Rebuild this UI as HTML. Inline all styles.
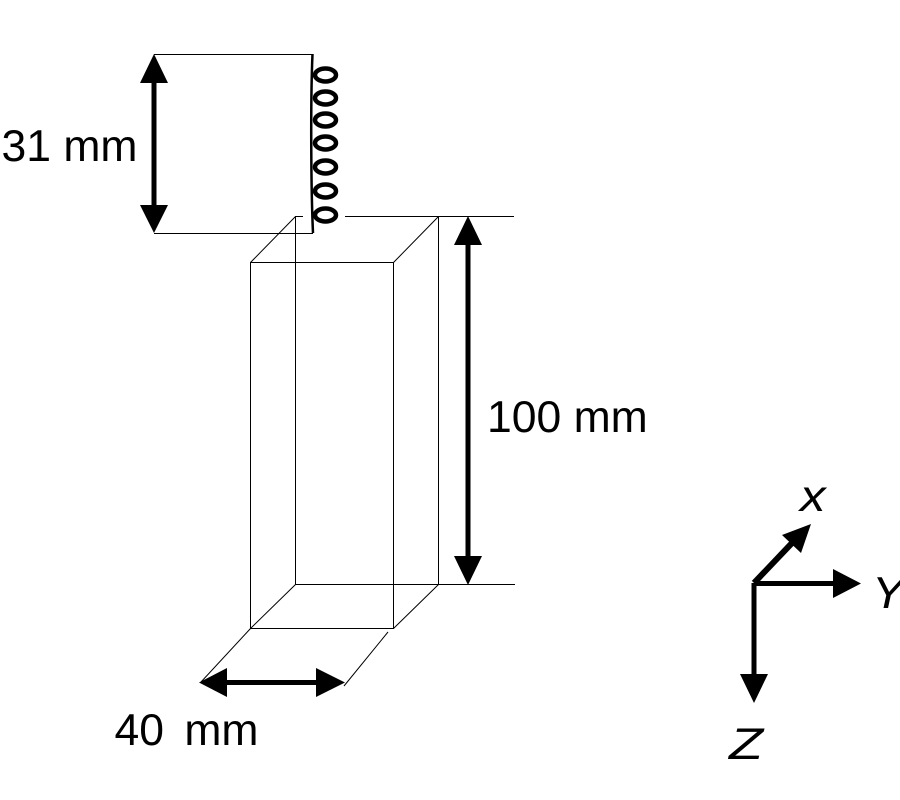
<!DOCTYPE html>
<html>
<head>
<meta charset="utf-8">
<style>
html,body{margin:0;padding:0;background:#fff;width:900px;height:800px;overflow:hidden}
svg{display:block}
text{font-family:"Liberation Sans",sans-serif;font-size:44.5px;fill:#000}
.i{font-style:italic}
</style>
</head>
<body>
<svg width="900" height="800" viewBox="0 0 900 800" xmlns="http://www.w3.org/2000/svg">
<g fill="none" stroke="#000" stroke-width="1">
<path d="M154 54.500H313M154 233.500H313"/>
<path d="M345 216.500H514M438 584.500H515"/>
<path d="M250.500 262.500H393.500V628.500H250.500Z"/>
<path d="M295.500 584.500H438.500V216.500M295.500 584.500V216.500H303"/>
<path d="M250.500 262.500L295.500 216.500M393.500 262.500L438.500 216.500M250.500 628.500L295.500 584.500M393.500 628.500L438.500 584.500"/>
<path d="M250.500 628.500L201 682M388 632L344 686"/>
</g>
<path d="M312.500 54C310.500 100 311 190 313 233" fill="none" stroke="#000" stroke-width="2.500"/>
<g fill="none" stroke="#000" stroke-width="4.500">
<ellipse cx="325.500" cy="75" rx="10.500" ry="6.500"/>
<ellipse cx="325.500" cy="98" rx="10.500" ry="6.500"/>
<ellipse cx="325.500" cy="120" rx="10.500" ry="6.500"/>
<ellipse cx="325.500" cy="143" rx="10.500" ry="6.500"/>
<ellipse cx="325.500" cy="167" rx="10.500" ry="6.500"/>
<ellipse cx="325.500" cy="191" rx="10.500" ry="6.500"/>
<ellipse cx="325.500" cy="215" rx="10.500" ry="6.500"/>
</g>
<g stroke="#000" stroke-width="5" fill="none">
<path d="M154 80V208"/>
<path d="M468 244V558"/>
<path d="M226 682.500H318"/>
<path d="M754 583.500H836M754 583V676"/>
<path d="M754 583L792 543" stroke-width="6"/>
</g>
<g fill="#000">
<path d="M154 54L168 83H140Z"/>
<path d="M154 233L168 205H140Z"/>
<path d="M468 216L482 245H454Z"/>
<path d="M468 585L482 556H454Z"/>
<path d="M199 682.500L227 668V697Z"/>
<path d="M345 682.500L316 668V697Z"/>
<path d="M861 583.500L833 569V598Z"/>
<path d="M754 703L740 674H768Z"/>
<path d="M811 524L782 535L801 553Z"/>
</g>
<text x="1.500" y="161">31 mm</text>
<text x="487" y="432">100 mm</text>
<text x="114.500" y="745" word-spacing="8">40 mm</text>
<text class="i" transform="translate(800 511) scale(1.15 1)">x</text>
<text class="i" transform="translate(872 608) scale(1.1 1)">Y</text>
<text class="i" transform="translate(729 759) scale(1.25 1)">Z</text>
</svg>
</body>
</html>
